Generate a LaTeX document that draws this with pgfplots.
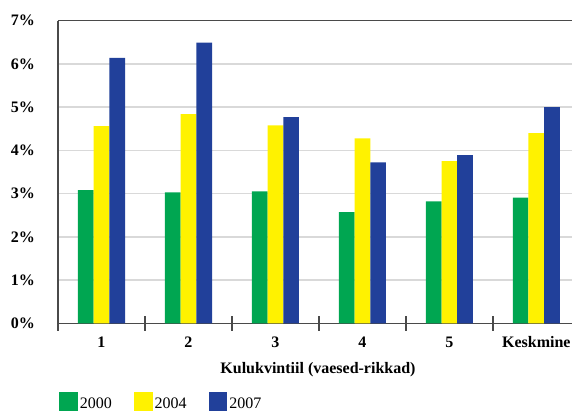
\documentclass[border=0pt]{standalone}
\usepackage{fontspec}
\setmainfont{Liberation Serif}
\usepackage{pgfplots}
\pgfplotsset{compat=1.18}
\definecolor{cgreen}{HTML}{00A651}
\definecolor{cyellow}{HTML}{FFF200}
\definecolor{cblue}{HTML}{21409A}
\definecolor{cgrid}{HTML}{D9D9D9}
\definecolor{caxis}{HTML}{4A4A4A}
\newcommand{\fs}{\fontsize{16}{19}\selectfont}

\begin{document}
\begin{tikzpicture}
\begin{axis}[
    name=ax,
    scale only axis,
    width=514pt, height=302.6pt,
    xmin=-0.5, xmax=5.41,
    ymin=0, ymax=7,
    ybar=0pt, bar width=15.7pt,
    legend image code/.code={\fill[#1, draw=none] (0pt,-7pt) rectangle (18.7pt,11.7pt);},
    axis lines=left,
    axis line style={-, caxis, line width=1.3pt},
    xtick={0,...,5},
    xticklabels={1,2,3,4,5,Keskmine},
    major tick length=0pt,
    xticklabel style={font=\fs\bfseries, inner sep=0pt, text height=11.7pt, text depth=0pt},
    xticklabel shift=12.7pt,
    extra x ticks={-0.5,0.5,1.5,2.5,3.5,4.5},
    extra x tick labels={},
    extra x tick style={major tick length=15pt, tick align=center,
        tick style={caxis, line width=1.3pt}},
    ytick={0,...,6},
    yticklabels={0\%,1\%,2\%,3\%,4\%,5\%,6\%},
    extra y ticks={7},
    extra y tick labels={7\%},
    extra y tick style={grid style={caxis, line width=1.3pt}},
    yticklabel style={font=\fs\bfseries, inner sep=0pt},
    yticklabel shift=23pt,
    ymajorgrids,
    grid style={cgrid, line width=1.5pt},
    xlabel={Kulukvintiil (vaesed-rikkad)},
    xlabel style={font=\fs\bfseries, inner sep=0pt, text height=11.7pt, text depth=3pt,
        at={(axis description cs:0.5,0)}, anchor=north, yshift=-38.4pt, xshift=3pt},
    legend style={at={(axis description cs:0,0)}, anchor=north west,
        xshift=1pt, yshift=-68.7pt, draw=none, fill=none, inner sep=0pt,
        font=\fs, legend columns=3,
        nodes={inner sep=2pt},
        /tikz/every even column/.append style={column sep=20pt}},
    legend cell align=left,
]
\addplot[fill=cgreen, draw=none] coordinates {
    (0,3.08) (1,3.03) (2,3.05) (3,2.57) (4,2.82) (5,2.91)
};
\addplot[fill=cyellow, draw=none] coordinates {
    (0,4.56) (1,4.84) (2,4.58) (3,4.28) (4,3.75) (5,4.40)
};
\addplot[fill=cblue, draw=none] coordinates {
    (0,6.14) (1,6.49) (2,4.77) (3,3.72) (4,3.89) (5,5.00)
};
\legend{2000,2004,2007}
\end{axis}
\pgfresetboundingbox
\path ([shift={(-58pt,-88.7pt)}]ax.south west) rectangle ([shift={(0pt,20.7pt)}]ax.north east);
\end{tikzpicture}
\end{document}
